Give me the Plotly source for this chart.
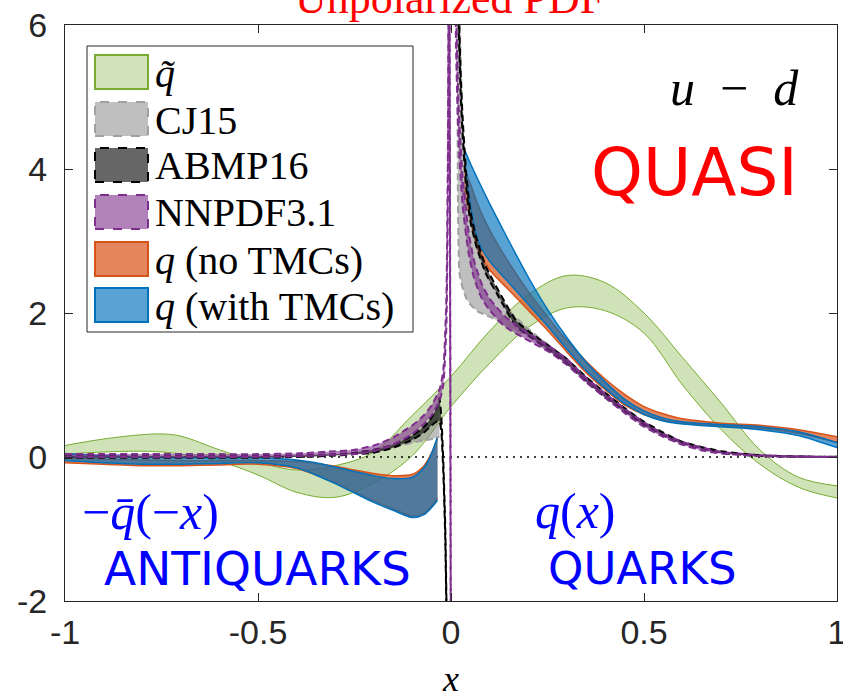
import plotly.graph_objects as go

# ---------------- data ----------------
# quasi-PDF band (q tilde)
x_qt = [-1.0, -0.9, -0.8, -0.75, -0.7, -0.6, -0.5, -0.4, -0.3, -0.2, -0.1, 0.0,
        0.1, 0.2, 0.3, 0.4, 0.5, 0.6, 0.7, 0.8, 0.9, 1.0]
qt_hi = [0.16, 0.25, 0.31, 0.32, 0.29, 0.10, -0.07, -0.18, -0.12, 0.07, 0.58, 1.12,
         1.75, 2.25, 2.52, 2.42, 2.00, 1.38, 0.75, 0.10, -0.28, -0.40]
qt_lo = [0.04, 0.07, 0.08, 0.07, 0.04, -0.06, -0.25, -0.49, -0.56, -0.36, 0.02, 0.70,
         1.30, 1.80, 2.07, 2.03, 1.72, 1.00, 0.38, -0.10, -0.42, -0.57]

# q (no TMCs) / q (with TMCs), antiquark side
x_q_neg = [-1.0, -0.9, -0.8, -0.7, -0.6, -0.5, -0.4, -0.35, -0.3, -0.25, -0.2, -0.15,
           -0.1, -0.07, -0.05, -0.035]
qno_neg_hi = [-0.01, -0.03, -0.04, -0.05, -0.05, -0.05, -0.06, -0.09, -0.13, -0.18, -0.23,
              -0.26, -0.24, -0.12, 0.06, 0.26]
qno_neg_lo = [-0.08, -0.10, -0.12, -0.12, -0.11, -0.10, -0.16, -0.25, -0.36, -0.49, -0.61,
              -0.72, -0.82, -0.78, -0.68, -0.57]
qtmc_neg_hi = [0.05, 0.02, 0.0, -0.01, -0.01, -0.01, -0.04, -0.08, -0.14, -0.20, -0.26,
               -0.30, -0.28, -0.15, 0.05, 0.28]
qtmc_neg_lo = [-0.05, -0.08, -0.10, -0.10, -0.09, -0.08, -0.15, -0.25, -0.37, -0.50, -0.63,
               -0.74, -0.84, -0.80, -0.70, -0.60]

# q (no TMCs) / q (with TMCs), quark side
x_q_pos = [0.034, 0.05, 0.07, 0.1, 0.15, 0.2, 0.25, 0.3, 0.35, 0.4, 0.45, 0.5, 0.55,
           0.6, 0.7, 0.8, 0.9, 1.0]
qno_pos_hi = [4.00, 3.80, 3.50, 3.15, 2.70, 2.30, 1.95, 1.62, 1.33, 1.08, 0.87, 0.70, 0.60,
              0.53, 0.47, 0.44, 0.38, 0.28]
qno_pos_lo = [3.70, 3.30, 2.88, 2.60, 2.32, 2.04, 1.76, 1.46, 1.17, 0.93, 0.72, 0.59, 0.51,
              0.47, 0.43, 0.40, 0.33, 0.20]
qtmc_pos_hi = [4.28, 4.08, 3.85, 3.52, 3.00, 2.50, 2.05, 1.66, 1.32, 1.04, 0.80, 0.64, 0.54,
               0.49, 0.45, 0.42, 0.35, 0.20]
qtmc_pos_lo = [4.20, 3.50, 3.00, 2.72, 2.42, 2.12, 1.82, 1.50, 1.20, 0.95, 0.74, 0.59, 0.50,
               0.46, 0.42, 0.38, 0.30, 0.13]

# CJ15
x_cj_neg = [-1.0, -0.8, -0.6, -0.5, -0.4, -0.3, -0.25, -0.2, -0.15, -0.1, -0.07, -0.05, -0.03]
cj_neg_hi = [0.01, 0.01, 0.01, 0.01, 0.02, 0.04, 0.06, 0.10, 0.18, 0.32, 0.44, 0.56, 0.76]
cj_neg_lo = [-0.01, -0.01, -0.01, -0.01, 0.0, 0.02, 0.04, 0.06, 0.13, 0.20, 0.23, 0.25, 0.28]
x_cj_pos = [0.016, 0.018, 0.02, 0.022, 0.03, 0.04, 0.05, 0.07, 0.1, 0.135, 0.2, 0.26, 0.3,
            0.35, 0.4, 0.45, 0.5, 0.55, 0.6, 0.7, 0.8, 0.9, 1.0]
cj_pos_hi = [8.0, 7.5, 6.8, 6.2, 4.6, 3.8, 3.3, 2.85, 2.45, 2.12, 1.78, 1.52, 1.35, 1.10,
             0.87, 0.66, 0.47, 0.32, 0.20, 0.07, 0.02, 0.005, 0.0]
cj_pos_lo = [7.0, 3.5, 2.8, 2.55, 2.35, 2.20, 2.12, 2.02, 1.95, 1.85, 1.68, 1.46, 1.30, 1.05,
             0.83, 0.63, 0.44, 0.30, 0.18, 0.06, 0.015, 0.003, 0.0]

# ABMP16
x_ab_neg = [-1.0, -0.8, -0.6, -0.5, -0.4, -0.3, -0.25, -0.2, -0.15, -0.1, -0.07, -0.05,
            -0.035, -0.03, -0.025, -0.02, -0.015, -0.01, -0.007]
ab_neg_hi = [0.01, 0.01, 0.01, 0.01, 0.02, 0.04, 0.06, 0.10, 0.17, 0.30, 0.42, 0.55, 0.72,
             0.82, 0.55, -0.05, -0.95, -2.7, -4.9]
ab_neg_lo = [-0.01, -0.01, -0.01, -0.01, 0.0, 0.02, 0.04, 0.06, 0.13, 0.24, 0.34, 0.44, 0.50,
             0.50, 0.35, -0.20, -1.10, -2.9, -5.1]
x_ab_pos = [0.018, 0.02, 0.025, 0.03, 0.04, 0.05, 0.065, 0.09, 0.12, 0.168, 0.2, 0.26, 0.3,
            0.35, 0.4, 0.45, 0.5, 0.55, 0.6, 0.7, 0.8, 0.9, 1.0]
ab_pos_hi = [7.2, 6.25, 5.35, 4.72, 3.9, 3.42, 3.06, 2.65, 2.34, 1.90, 1.75, 1.52, 1.36,
             1.11, 0.89, 0.68, 0.49, 0.34, 0.21, 0.08, 0.025, 0.008, 0.002]
ab_pos_lo = [6.8, 5.95, 5.05, 4.48, 3.7, 3.28, 2.94, 2.55, 2.26, 1.82, 1.69, 1.46, 1.30,
             1.05, 0.83, 0.64, 0.45, 0.30, 0.19, 0.06, 0.015, 0.003, 0.0]

# NNPDF3.1
x_nn_neg = [-1.0, -0.8, -0.6, -0.5, -0.4, -0.3, -0.25, -0.2, -0.15, -0.1, -0.07, -0.05,
            -0.03, -0.02, -0.012, -0.008, -0.005, 0.002]
nn_neg_hi = [0.04, 0.04, 0.04, 0.04, 0.05, 0.08, 0.10, 0.16, 0.27, 0.44, 0.58, 0.72, 0.93,
             1.2, 2.2, 4.3, 8.5, -9.5]
nn_neg_lo = [0.0, 0.0, 0.0, 0.0, 0.01, 0.03, 0.04, 0.08, 0.17, 0.32, 0.46, 0.58, 0.77,
             1.0, 1.8, 3.7, 7.5, -10.5]
x_nn_pos = [0.01, 0.013, 0.02, 0.03, 0.045, 0.06, 0.08, 0.1, 0.14, 0.2, 0.26, 0.3, 0.35,
            0.4, 0.45, 0.5, 0.55, 0.6, 0.65, 0.7, 0.8, 0.9, 1.0]
nn_pos_hi = [8.4, 6.3, 4.85, 3.9, 3.15, 2.72, 2.4, 2.2, 1.95, 1.72, 1.52, 1.36, 1.10, 0.88,
             0.67, 0.48, 0.32, 0.21, 0.13, 0.07, 0.025, 0.008, 0.002]
nn_pos_lo = [7.6, 5.7, 4.35, 3.5, 2.85, 2.48, 2.2, 2.04, 1.81, 1.62, 1.44, 1.28, 1.04, 0.82,
             0.61, 0.42, 0.28, 0.17, 0.09, 0.05, 0.015, 0.003, 0.0]

# zero reference
x_zero = [-1.0, 1.0]
y_zero = [0.0, 0.0]

# axis ticks
x_tickvals = [-1, -0.5, 0, 0.5, 1]
x_ticktext = ["-1", "-0.5", "0", "0.5", "1"]
y_tickvals = [-2, 0, 2, 4, 6]
y_ticktext = ["-2", "0", "2", "4", "6"]

# legend entries
leg_labels = ["<i>q\u0303</i>", "CJ15", "ABMP16", "NNPDF3.1",
              "<i>q</i> (no TMCs)", "<i>q</i> (with TMCs)"]

# ---------------- styles ----------------
GREEN_F, GREEN_L = "rgba(119,172,48,0.35)", "#77ac30"
ORANGE_F, ORANGE_L = "rgba(217,83,25,0.70)", "#d95319"
BLUE_F, BLUE_L = "rgba(0,114,189,0.65)", "#0072bd"
CJ_F, CJ_L = "rgba(128,128,128,0.50)", "#a0a0a0"
AB_F, AB_L = "rgba(0,0,0,0.60)", "#000000"
NN_F, NN_L = "rgba(126,47,142,0.60)", "#7e2f8e"

leg_fill = ["#d2e3bc", "#bfbfbf", "#666666", "#b282bb", "#e4875e", "#59a3d4"]
leg_line = [GREEN_L, CJ_L, AB_L, NN_L, ORANGE_L, BLUE_L]
leg_dash = ["solid", "dash", "dash", "dash", "solid", "solid"]

fig = go.Figure()


def add_band(x, lo, hi, fill, line, width, dash, name, smooth):
    shape = "spline" if smooth else "linear"
    ln = dict(color=line, width=width, dash=dash, shape=shape)
    if smooth:
        ln["smoothing"] = smooth
    fig.add_trace(go.Scatter(x=x, y=lo, mode="lines", line=ln, name=name,
                             showlegend=False, hoverinfo="skip"))
    fig.add_trace(go.Scatter(x=x, y=hi, mode="lines", line=ln, name=name,
                             fill="tonexty", fillcolor=fill, showlegend=False,
                             hoverinfo="skip"))


DASH = "7px,4px"
add_band(x_qt, qt_lo, qt_hi, GREEN_F, GREEN_L, 1, "solid", "q tilde", 1.0)
fig.add_trace(go.Scatter(x=x_zero, y=y_zero, mode="lines",
                         line=dict(color="black", width=1.5, dash="2px,5px"),
                         showlegend=False, hoverinfo="skip"))
add_band(x_q_neg, qno_neg_lo, qno_neg_hi, ORANGE_F, ORANGE_L, 1.5, "solid", "q (no TMCs)", 0.8)
add_band(x_q_pos, qno_pos_lo, qno_pos_hi, ORANGE_F, ORANGE_L, 1.5, "solid", "q (no TMCs)", 0.8)
add_band(x_q_neg, qtmc_neg_lo, qtmc_neg_hi, BLUE_F, BLUE_L, 1.5, "solid", "q (with TMCs)", 0.8)
add_band(x_q_pos, qtmc_pos_lo, qtmc_pos_hi, BLUE_F, BLUE_L, 1.5, "solid", "q (with TMCs)", 0.8)
add_band(x_cj_neg, cj_neg_lo, cj_neg_hi, CJ_F, CJ_L, 2, DASH, "CJ15", 0.6)
add_band(x_cj_pos, cj_pos_lo, cj_pos_hi, CJ_F, CJ_L, 2, DASH, "CJ15", 0.6)
add_band(x_ab_neg, ab_neg_lo, ab_neg_hi, AB_F, AB_L, 2, DASH, "ABMP16", 0.5)
add_band(x_ab_pos, ab_pos_lo, ab_pos_hi, AB_F, AB_L, 2, DASH, "ABMP16", 0.6)
add_band(x_nn_neg, nn_neg_lo, nn_neg_hi, NN_F, NN_L, 2, DASH, "NNPDF3.1", 0.5)
add_band(x_nn_pos, nn_pos_lo, nn_pos_hi, NN_F, NN_L, 2, DASH, "NNPDF3.1", 0.6)

# ---------------- layout ----------------
PL, PR, PT, PB = 65, 837, 25, 601


def px(v):
    return (v - PL) / (PR - PL)


def py(v):
    return (PB - v) / (PB - PT)


SERIF = "Liberation Serif, Times New Roman, serif"
SANS = "DejaVu Sans, sans-serif"
TICKF = "Liberation Sans, Arial, sans-serif"

axis_common = dict(showgrid=False, zeroline=False, showline=True, linecolor="#262626",
                   linewidth=1, mirror="ticks", ticks="inside", ticklen=8,
                   tickcolor="#262626", tickwidth=1, ticklabeloverflow="allow",
                   automargin=False,
                   tickfont=dict(family=TICKF, size=34, color="#262626"))

fig.update_layout(
    width=843, height=698,
    margin=dict(l=PL, r=843 - PR, t=PT, b=698 - PB, autoexpand=False),
    paper_bgcolor="white", plot_bgcolor="white",
    showlegend=False,
    xaxis=dict(range=[-1, 1], tickvals=x_tickvals, ticktext=x_ticktext,
               ticklabelstandoff=1, **axis_common),
    yaxis=dict(range=[-2, 6], tickvals=y_tickvals, ticktext=y_ticktext,
               ticklabelstandoff=10, **axis_common),
)

shapes = []
anns = []
# legend box
shapes.append(dict(type="rect", xref="paper", yref="paper", x0=px(87), x1=px(413),
                   y0=py(332), y1=py(46), line=dict(color="#262626", width=1),
                   fillcolor="white", layer="above"))
row_c = [72, 119, 165, 212, 259, 305]
for i, lab in enumerate(leg_labels):
    c = row_c[i]
    shapes.append(dict(type="rect", xref="paper", yref="paper", x0=px(95), x1=px(148),
                       y0=py(c + 17), y1=py(c - 17), fillcolor=leg_fill[i],
                       line=dict(color=leg_line[i], width=2, dash=leg_dash[i]),
                       layer="above"))
    anns.append(dict(xref="paper", yref="paper", x=px(153), y=py(c + 1), xanchor="left",
                     yanchor="middle", showarrow=False, text=lab,
                     font=dict(family=SERIF, size=40, color="black")))

# text labels
anns += [
    dict(xref="paper", yref="paper", x=px(801), y=py(88), xanchor="right", yanchor="middle",
         showarrow=False, text="<i>u</i>\u2002\u2212\u2002<i>d</i>",
         font=dict(family=SERIF, size=50, color="black")),
    dict(xref="paper", yref="paper", x=px(800), y=py(172), xanchor="right", yanchor="middle",
         showarrow=False, text="QUASI", font=dict(family=SANS, size=66, color="red")),
    dict(xref="paper", yref="paper", x=px(80), y=py(512), xanchor="left", yanchor="middle",
         showarrow=False, text="\u2212<i>q\u0304</i>(\u2212<i>x</i>)",
         font=dict(family=SERIF, size=50, color="blue")),
    dict(xref="paper", yref="paper", x=px(257), y=py(568), xanchor="center", yanchor="middle",
         showarrow=False, text="ANTIQUARKS", font=dict(family=SANS, size=47, color="blue")),
    dict(xref="paper", yref="paper", x=px(575), y=py(511), xanchor="center", yanchor="middle",
         showarrow=False, text="<i>q</i>(<i>x</i>)",
         font=dict(family=SERIF, size=50, color="blue")),
    dict(xref="paper", yref="paper", x=px(642), y=py(568), xanchor="center", yanchor="middle",
         showarrow=False, text="QUARKS", font=dict(family=SANS, size=45, color="blue")),
    dict(xref="paper", yref="paper", x=px(450), y=py(679), xanchor="center", yanchor="middle",
         showarrow=False, text="<i>x</i>", font=dict(family=SERIF, size=36, color="black")),
    dict(xref="paper", yref="paper", x=px(449), y=py(-2), xanchor="center", yanchor="middle",
         showarrow=False, text="Unpolarized PDF",
         font=dict(family=SERIF, size=44, color="red")),
]
fig.update_layout(shapes=shapes, annotations=anns)

fig.write_html("out.html")
